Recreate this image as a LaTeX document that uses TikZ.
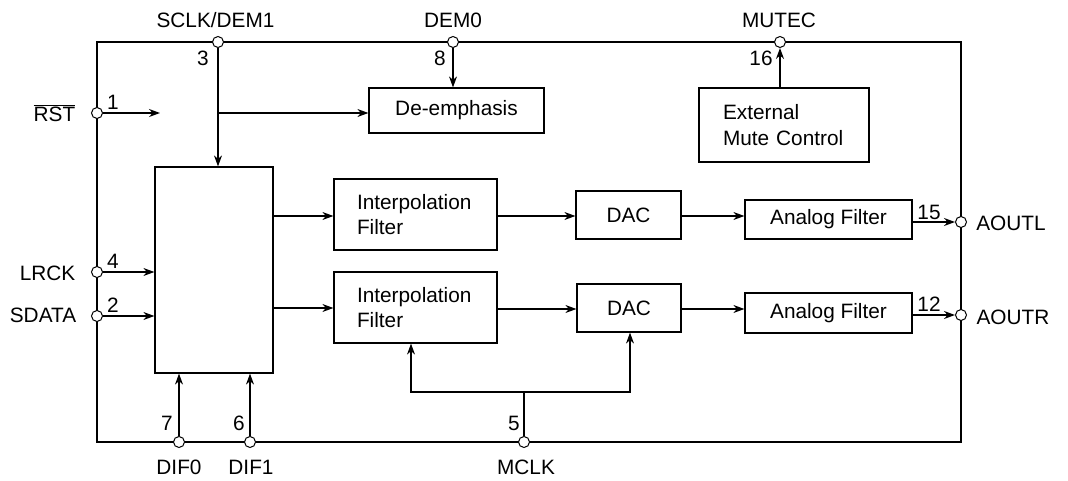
\documentclass[tikz,border=0pt]{standalone}
\usepackage{fontspec}
\setmainfont{Liberation Sans}
\usetikzlibrary{arrows.meta}
\begin{document}
\begin{tikzpicture}[x=1pt,y=-1pt,
  line width=1.2pt,
  font=\fontsize{20.8}{25.5}\selectfont,
  arr/.style={-{Stealth[length=11pt,width=8pt]}},
  pinc/.style={circle,draw,fill=white,minimum size=11pt,inner sep=0pt,line width=1pt},
  blk/.style={draw,inner sep=0pt},
  lbl/.style={inner sep=0pt}]
\useasboundingbox (0,0) rectangle (1068,481);
% frame
\draw (97,42) rectangle (961,442);
% blocks
\node[blk,minimum width=118pt,minimum height=206pt] (left) at (214,270) {};
\node[blk,minimum width=175pt,minimum height=45pt] (deemph) at (456.5,110.5) {De-emphasis};
\node[blk,minimum width=170pt,minimum height=74pt,align=left,text width=122pt] (mute) at (784,125) {External\\Mute Control};
\node[blk,minimum width=163pt,minimum height=71pt,align=left,text width=117pt] (itop) at (415.5,214.5) {Interpolation\\Filter};
\node[blk,minimum width=163pt,minimum height=71pt,align=left,text width=117pt] (ibot) at (415.5,307.5) {Interpolation\\Filter};
\node[blk,minimum width=105pt,minimum height=48pt] (dtop) at (628.5,215) {DAC};
\node[blk,minimum width=104pt,minimum height=48pt] (dbot) at (629,308) {DAC};
\node[blk,minimum width=167pt,minimum height=39pt] (aftop) at (828.5,219.5) {Analog Filter};
\node[blk,minimum width=167pt,minimum height=40pt] (afbot) at (828.5,313) {Analog Filter};
% pins
\node[pinc] (sclk) at (218,42) {};
\node[pinc] (dem0) at (453,42) {};
\node[pinc] (mutec) at (780,42) {};
\node[pinc] (rst) at (97,113) {};
\node[pinc] (lrck) at (97,272) {};
\node[pinc] (sdata) at (97,316) {};
\node[pinc] (dif0) at (179,442) {};
\node[pinc] (dif1) at (250,442) {};
\node[pinc] (mclk) at (524,442) {};
\node[pinc] (aoutl) at (961,222) {};
\node[pinc] (aoutr) at (961,315) {};
% pin labels
\node[lbl] (tsclk) at (215.5,20) {SCLK/DEM1};
\node[lbl] (tdem0) at (453,20) {DEM0};
\node[lbl] (tmutec) at (779,20) {MUTEC};
\node[lbl] (trst) at (54.5,113) {$\overline{\mbox{RST}}$};
\node[lbl] (tlrck) at (47.5,273) {LRCK};
\node[lbl] (tsdata) at (43,315) {SDATA};
\node[lbl] (tdif0) at (179,467) {DIF0};
\node[lbl] (tdif1) at (251,467) {DIF1};
\node[lbl] (tmclk) at (526,467) {MCLK};
\node[lbl] (taoutl) at (1011,223) {AOUTL};
\node[lbl] (taoutr) at (1013,317) {AOUTR};
% pin numbers
\node[lbl] (n3) at (203,58) {3};
\node[lbl] (n8) at (440,58) {8};
\node[lbl] (n16) at (761,58) {16};
\node[lbl] (n1) at (113,102) {1};
\node[lbl] (n4) at (113,261) {4};
\node[lbl] (n2) at (113,305) {2};
\node[lbl] (n7) at (167,423) {7};
\node[lbl] (n6) at (239,423) {6};
\node[lbl] (n5) at (514,423) {5};
\node[lbl] (n15) at (929,212) {15};
\node[lbl] (n12) at (929,304) {12};
% connectors
\coordinate (rstend) at (160,113);
\coordinate (br) at (218,113);
\draw[arr] (rst.east) -- (rstend);
\draw[arr] (sclk.south) -- (sclk |- left.north);
\draw[arr] (br) -- (deemph.west |- br);
\draw[arr] (dem0.south) -- (dem0 |- deemph.north);
\draw[arr] (mutec |- mute.north) -- (mutec.south);
\draw[arr] (lrck.east) -- (left.west |- lrck);
\draw[arr] (sdata.east) -- (left.west |- sdata);
\draw[arr] (dif0.north) -- (dif0 |- left.south);
\draw[arr] (dif1.north) -- (dif1 |- left.south);
\draw[arr] (left.east |- 0,216) -- (itop.west |- 0,216);
\draw[arr] (itop.east |- 0,216) -- (dtop.west |- 0,216);
\draw[arr] (dtop.east |- 0,216) -- (aftop.west |- 0,216);
\draw[arr] (aftop.east |- aoutl) -- (aoutl.west);
\draw[arr] (left.east |- 0,308) -- (ibot.west |- 0,308);
\draw[arr] (ibot.east |- 0,309) -- (dbot.west |- 0,309);
\draw[arr] (dbot.east |- 0,309) -- (afbot.west |- 0,309);
\draw[arr] (afbot.east |- aoutr) -- (aoutr.west);
\coordinate (mj) at (524,392);
\coordinate (ml) at (411,392);
\coordinate (mr) at (630,392);
\draw (mclk.north) -- (mj);
\draw[arr] (mj) -- (ml) -- (ml |- ibot.south);
\draw[arr] (mj) -- (mr) -- (mr |- dbot.south);
\end{tikzpicture}
\end{document}
